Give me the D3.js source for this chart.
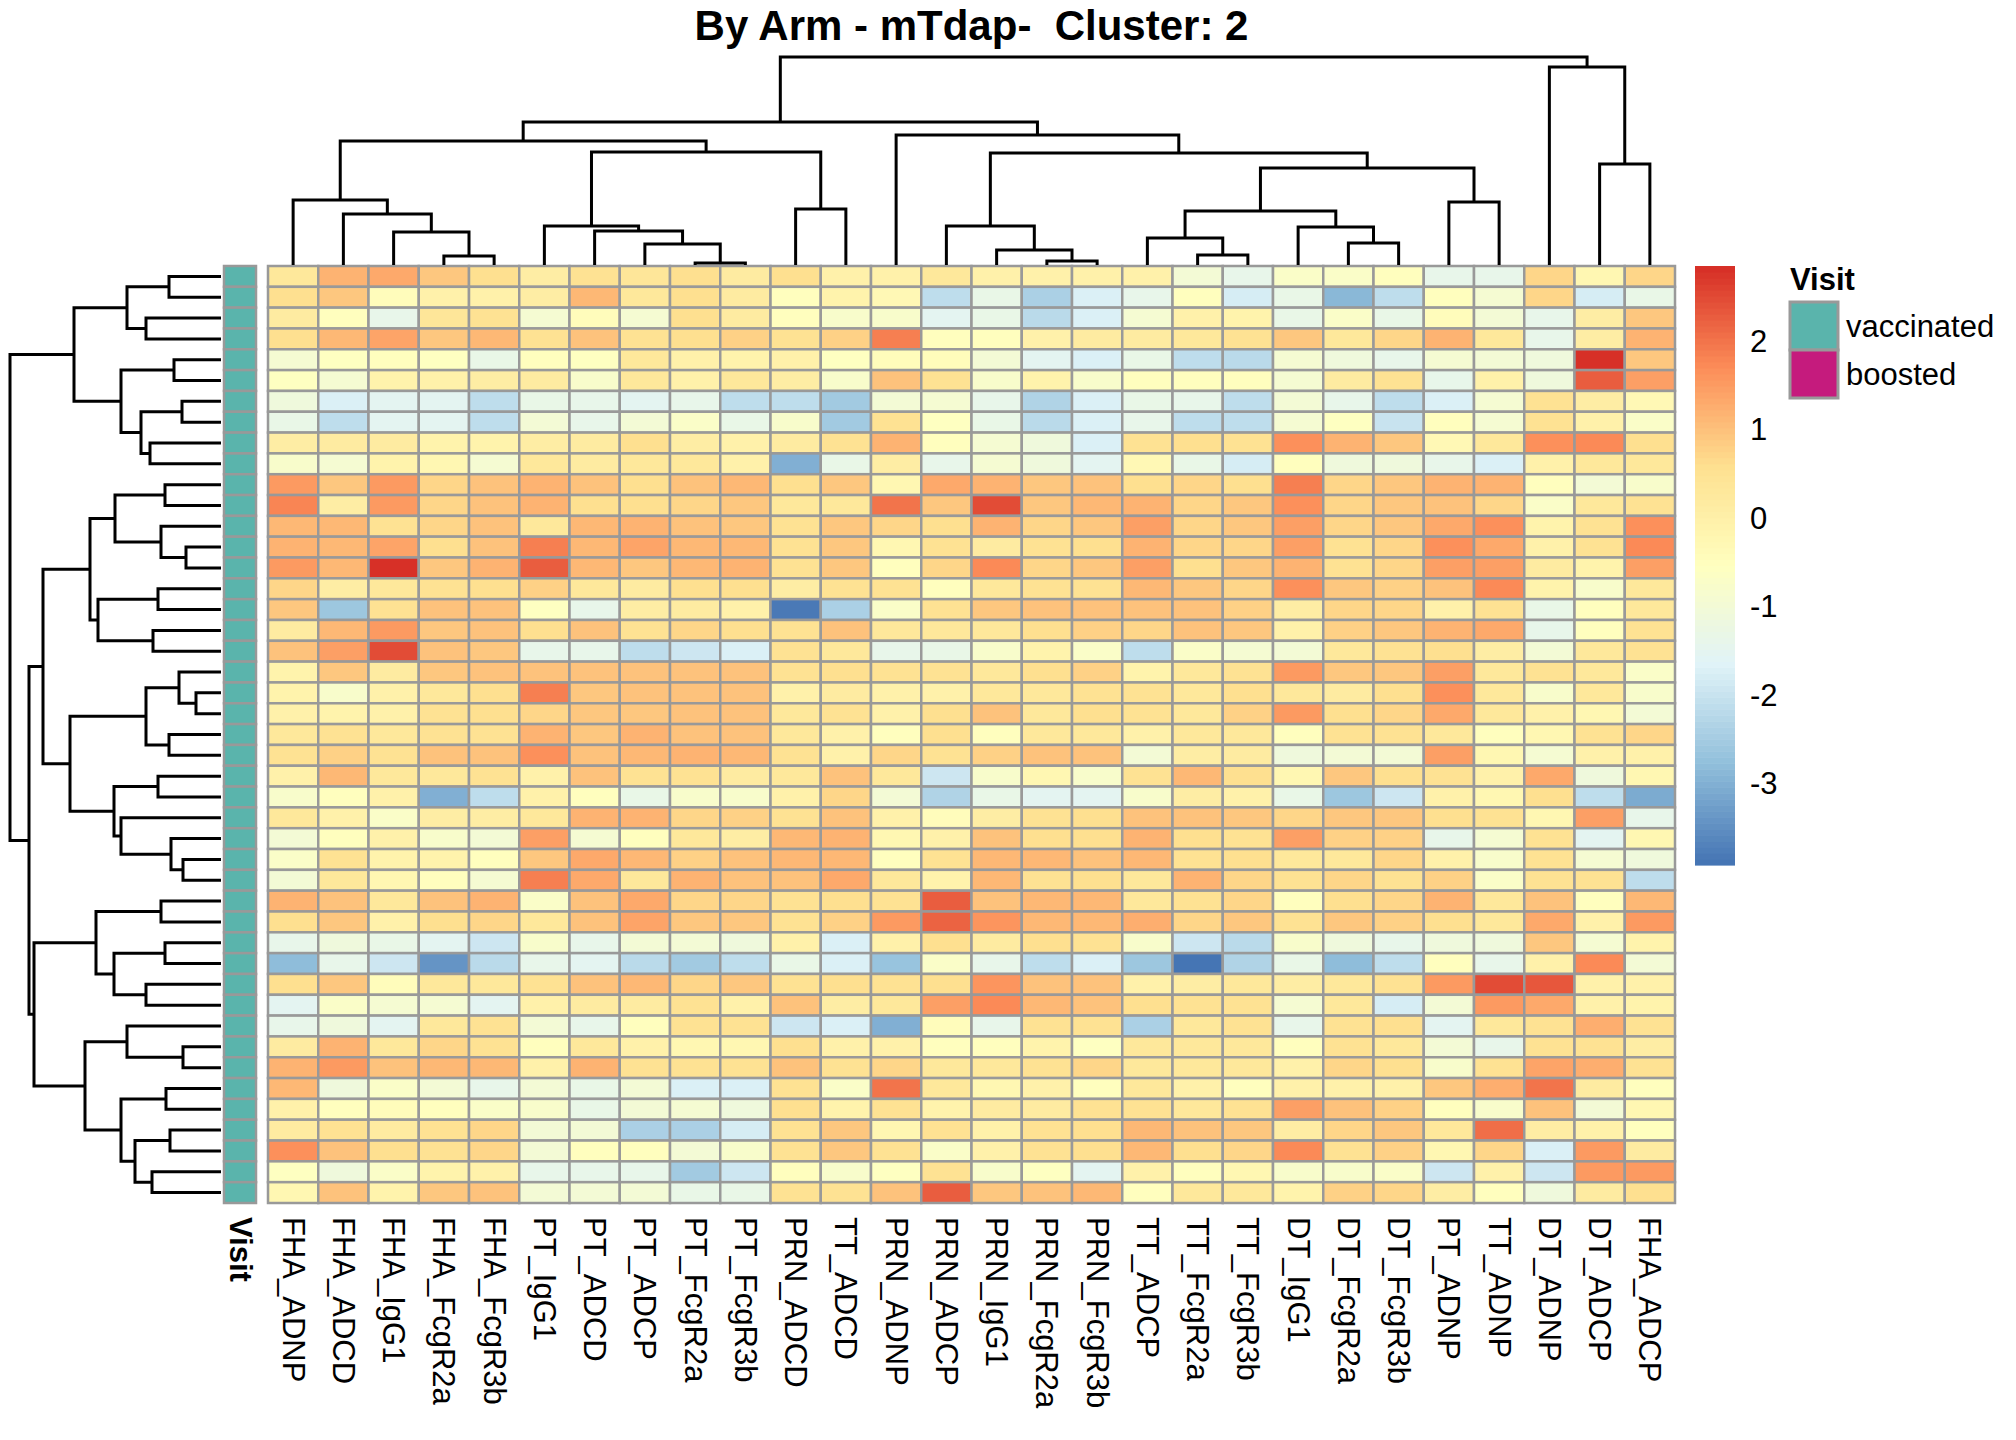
<!DOCTYPE html>
<html>
<head>
<meta charset="utf-8">
<title>By Arm - mTdap- Cluster: 2</title>
<script src="https://d3js.org/d3.v7.min.js"></script>
<style>
  html, body { margin: 0; padding: 0; background: #fff; }
  svg { display: block; font-family: "Liberation Sans", Arial, Helvetica, sans-serif; }
</style>
</head>
<body>
<svg id="chart"></svg>
<script>
// ---- data ----
const title = "By Arm - mTdap-  Cluster: 2";

const columns = [
  "FHA_ADNP", "FHA_ADCD", "FHA_IgG1", "FHA_FcgR2a", "FHA_FcgR3b", "PT_IgG1", "PT_ADCD",
  "PT_ADCP", "PT_FcgR2a", "PT_FcgR3b", "PRN_ADCD", "TT_ADCD", "PRN_ADNP", "PRN_ADCP",
  "PRN_IgG1", "PRN_FcgR2a", "PRN_FcgR3b", "TT_ADCP", "TT_FcgR2a", "TT_FcgR3b", "DT_IgG1",
  "DT_FcgR2a", "DT_FcgR3b", "PT_ADNP", "TT_ADNP", "DT_ADNP", "DT_ADCP", "FHA_ADCP"
];

// one annotation per row (all samples are "vaccinated")
const visit = [
  "vaccinated", "vaccinated", "vaccinated", "vaccinated", "vaccinated", "vaccinated", "vaccinated", "vaccinated", "vaccinated",
  "vaccinated", "vaccinated", "vaccinated", "vaccinated", "vaccinated", "vaccinated", "vaccinated", "vaccinated", "vaccinated",
  "vaccinated", "vaccinated", "vaccinated", "vaccinated", "vaccinated", "vaccinated", "vaccinated", "vaccinated", "vaccinated",
  "vaccinated", "vaccinated", "vaccinated", "vaccinated", "vaccinated", "vaccinated", "vaccinated", "vaccinated", "vaccinated",
  "vaccinated", "vaccinated", "vaccinated", "vaccinated", "vaccinated", "vaccinated", "vaccinated", "vaccinated", "vaccinated"
];
const visitLevels = ["vaccinated", "boosted"];
const visitColors = ["#5AB4AC", "#C51B7D"];

// scaled values, rows in dendrogram order, columns as above
const cellValues = [
  [0.3,1.2,1.3,0.9,0.6,0.1,0.5,0.4,0.6, 0.2,0.6,0.0,0.0,0.3,0.0,0.0,0.0,0.0,-1.0, -1.4,-0.7,-0.7,-0.5,-1.4,-1.4,0.7,-0.2,0.7],
  [0.6,0.9,-0.4,0.0,0.0,0.1,1.1,0.3,0.6, 0.2,-0.5,-0.1,-0.3,-2.1,-1.3,-2.4,-1.7,-1.4,-0.5, -1.8,-1.3,-2.9,-2.1,-0.5,-0.9,0.7,-1.8,-1.3],
  [0.2,-0.5,-1.4,0.4,0.5,-0.9,-0.4,-0.9,0.6, 0.2,-0.5,-0.8,-0.8,-1.5,-1.3,-2.2,-1.7,-0.9,0.0, -0.1,-1.3,-0.7,-1.3,-0.4,-1.0,-1.4,0.1,0.9],
  [0.6,1.1,1.4,0.9,1.1,0.5,1.0,0.5,0.6, 0.8,0.5,0.8,1.85,-0.5,-0.5,0.0,0.2,0.2,0.3, 0.5,0.9,0.3,0.7,1.2,0.3,-1.4,0.1,1.2],
  [-0.9,-0.6,-0.5,-0.6,-1.3,-0.5,-0.6,0.3,0.0, -0.1,0.0,-0.6,-0.4,-0.4,-1.0,-1.5,-1.7,-1.3,-2.1, -2.2,-0.9,-1.1,-1.4,-0.9,-1.0,-1.1,2.8,0.9],
  [-0.6,-0.9,-0.1,0.0,0.1,0.2,-0.8,0.3,0.0, 0.3,0.1,-0.8,1.0,0.5,-0.8,-0.1,-0.8,-0.5,-0.5, -0.5,-0.9,0.2,0.5,-1.4,0.0,-1.1,2.3,1.45],
  [-1.1,-1.7,-1.5,-1.5,-2.1,-1.3,-1.4,-1.5,-1.4, -2.1,-2.1,-2.5,-1.0,-0.9,-1.4,-2.3,-1.7,-1.3,-1.4, -2.1,-1.0,-1.4,-2.1,-1.7,-0.9,0.5,0.1,-0.3],
  [-1.3,-2.1,-1.5,-1.5,-2.1,-1.0,-1.4,-1.0,-0.7, -1.3,-0.8,-2.5,0.5,-0.6,-1.3,-2.2,-1.7,-1.4,-2.1, -2.1,-0.9,-0.6,-2.0,-0.5,-0.9,0.5,0.0,-0.7],
  [0.1,0.2,0.2,-0.1,-0.1,0.1,0.2,0.6,0.1, 0.0,0.2,0.5,1.2,-0.5,-0.9,-1.1,-1.7,0.5,0.6, 0.5,1.65,1.2,0.9,-0.3,0.3,1.65,1.7,0.6],
  [-0.8,-0.9,-0.1,-0.2,-0.9,0.3,0.2,0.3,0.3, 0.0,-3.0,-1.3,0.1,-1.4,-0.9,-1.1,-1.5,-0.3,-1.3, -1.8,-0.5,-1.1,-1.1,-1.4,-1.7,0.0,0.3,0.3],
  [1.5,0.9,1.5,0.7,1.0,1.2,1.0,0.6,1.0, 1.1,0.6,0.9,-0.2,1.3,1.2,0.9,1.0,0.6,0.7, 0.6,1.9,0.7,0.9,1.2,1.2,-0.5,-1.0,-0.8],
  [1.8,0.1,1.5,0.7,1.0,1.2,0.6,0.6,0.7, 0.9,0.3,0.3,2.0,0.9,2.5,0.9,1.1,1.2,0.7, 0.9,1.65,0.7,0.9,1.0,0.7,-0.7,0.3,0.5],
  [1.1,1.1,0.5,0.7,1.0,0.3,1.1,1.2,1.0, 0.9,0.5,0.9,0.7,0.6,1.2,0.7,0.9,1.45,0.7, 0.9,1.45,0.7,0.9,1.3,1.65,-0.1,0.5,1.65],
  [1.2,1.1,1.4,0.6,1.0,1.9,1.1,1.4,1.1, 1.1,0.5,0.9,-0.2,0.5,0.2,0.5,0.6,1.2,0.7, 0.7,1.45,0.5,0.7,1.65,1.3,0.0,0.5,1.7],
  [1.5,1.1,2.85,0.9,1.2,2.3,1.1,0.9,1.1, 1.2,0.5,0.9,-0.5,0.7,1.75,0.7,0.9,1.45,0.6, 0.9,1.2,0.5,0.7,1.45,1.45,0.2,-0.1,1.45],
  [0.7,0.1,0.3,0.5,0.6,0.8,0.3,0.2,0.6, 0.6,0.1,0.5,0.5,-0.5,0.3,0.5,0.5,1.1,0.9, 0.7,1.65,0.9,0.8,1.0,1.7,-0.1,-0.8,0.3],
  [0.9,-2.6,0.5,1.0,1.0,-0.6,-1.4,0.1,0.2, 0.0,-3.85,-2.4,-0.7,0.5,0.9,1.0,1.0,1.0,1.0, 0.8,0.1,0.7,0.7,0.0,0.5,-1.3,-0.5,0.3],
  [0.2,1.1,1.5,0.9,1.0,0.6,1.0,0.5,0.7, 0.6,0.5,1.0,0.3,0.3,0.3,0.6,0.8,0.7,1.0, 0.9,0.0,0.8,0.9,1.2,1.35,-1.4,-0.5,0.5],
  [1.0,1.45,2.5,1.0,0.9,-1.4,-1.4,-2.1,-1.9, -1.7,0.5,0.3,-1.4,-1.3,-0.8,-0.1,-0.7,-2.1,-0.7, -0.9,-1.0,0.3,0.5,0.6,0.1,-1.0,0.3,0.5],
  [-0.1,0.9,0.2,0.9,1.0,1.0,1.0,1.0,1.0, 1.0,0.5,0.6,0.5,0.5,0.3,0.6,0.8,-0.1,0.3, 0.5,1.5,0.9,0.9,1.45,0.3,0.5,0.3,-0.7],
  [-0.1,-0.8,0.0,0.3,0.6,1.9,0.9,1.0,1.0, 1.0,0.0,0.2,0.0,0.0,0.3,0.3,0.5,0.5,0.3, 0.6,0.3,0.2,0.6,1.65,0.3,-0.8,0.3,-0.8],
  [0.0,-0.1,0.0,0.5,0.6,0.7,0.9,0.9,1.0, 1.0,0.3,0.5,0.0,0.6,1.0,0.3,0.6,0.5,0.3, 0.8,1.5,0.6,0.7,1.3,0.3,0.0,-0.2,-1.0],
  [0.3,0.5,0.3,0.5,0.5,1.2,0.9,1.2,1.0, 1.0,0.3,0.0,-0.5,0.6,-0.5,0.3,0.3,0.0,0.3, 0.3,-0.5,0.5,0.5,0.3,-0.5,-0.2,0.5,0.7],
  [0.5,0.8,0.5,1.0,1.0,1.65,1.0,1.1,1.2, 1.1,0.5,0.0,0.7,0.5,0.8,1.0,1.0,-1.0,0.1, 0.2,-1.1,-1.0,-1.0,1.45,-0.2,-0.9,0.0,0.0],
  [0.0,1.1,0.3,0.3,0.5,0.0,1.0,0.5,0.5, 0.2,0.3,1.0,0.3,-1.9,-0.8,-0.2,-0.8,0.5,1.1, 0.6,-0.2,0.9,0.6,0.5,0.0,1.3,-1.1,-0.2],
  [-0.8,-0.5,0.0,-3.0,-2.1,0.0,-0.5,-1.3,-0.8, -0.8,0.0,0.7,-1.0,-2.3,-1.3,-1.5,-1.5,-0.8,0.1, 0.0,-1.3,-2.6,-1.9,0.0,-0.2,0.6,-2.1,-3.1],
  [0.3,0.0,-0.7,0.1,0.1,0.3,1.2,1.2,0.7, 0.8,0.5,1.0,0.0,-0.4,0.1,0.5,0.6,1.0,1.0, 0.9,0.7,0.9,0.9,0.6,0.5,-0.2,1.45,-1.4],
  [-1.0,-0.5,0.0,-0.8,-1.0,1.45,-0.9,-0.5,0.3, 0.1,1.1,1.2,-0.2,0.0,1.0,0.6,0.6,1.2,0.6, 0.5,1.45,0.8,0.8,-1.4,-0.9,0.5,-1.5,-0.2],
  [-0.7,0.5,-0.1,-0.1,-0.5,0.9,1.3,1.1,0.8, 1.0,1.1,1.1,-0.5,0.5,1.1,1.1,1.0,1.1,0.5, 0.6,0.3,0.3,0.7,0.0,-0.8,0.5,-0.9,-1.1],
  [-1.0,0.3,-0.2,-0.5,-0.9,1.9,1.3,0.3,1.2, 1.0,1.0,1.35,0.3,-0.1,1.1,0.5,0.6,0.3,1.2, 0.7,0.5,0.7,0.5,0.8,-0.7,0.5,0.5,-2.1],
  [1.2,1.0,0.3,1.0,1.2,-0.7,1.0,1.35,0.7, 0.7,0.5,0.6,0.5,2.3,1.0,1.1,1.1,0.3,0.5, 0.7,-0.5,0.6,0.7,1.2,0.3,1.0,-0.5,1.1],
  [0.6,0.9,0.0,0.6,0.7,0.3,1.0,1.4,0.9, 0.9,0.5,0.8,1.5,2.2,1.6,1.1,1.1,1.25,0.7, 0.9,0.5,0.9,0.8,0.6,0.3,1.35,0.0,1.55],
  [-1.4,-1.1,-1.3,-1.5,-1.9,-0.8,-1.4,-1.0,-1.0, -1.1,0.0,-1.7,0.0,0.6,0.2,0.6,0.5,-0.8,-1.9, -2.2,-0.8,-1.1,-1.4,-1.1,-1.1,0.9,-0.9,-0.1],
  [-2.8,-1.4,-1.9,-3.4,-2.2,-1.4,-1.5,-2.2,-2.5, -2.1,-1.3,-1.7,-2.7,-0.7,-1.4,-2.1,-1.7,-2.6,-3.92, -2.3,-1.3,-2.8,-2.1,-0.5,-1.4,0.0,1.7,-1.0],
  [0.6,0.9,-0.4,0.3,0.3,0.5,1.0,1.1,0.7, 0.9,0.5,0.6,0.5,0.6,1.6,1.0,1.0,0.0,0.1, 0.3,0.1,0.3,0.5,1.5,2.5,2.35,0.0,0.0],
  [-1.5,-0.7,-0.9,-0.9,-1.5,0.0,0.2,0.2,0.5, 0.0,1.0,0.1,0.3,1.45,1.7,1.1,1.0,0.6,0.5, 0.5,-0.9,0.3,-1.8,-1.0,1.5,1.35,0.0,-0.1],
  [-1.4,-1.1,-1.5,0.3,0.5,-1.0,-1.4,-0.5,0.5, 0.5,-1.9,-1.7,-3.0,-0.4,-1.4,0.5,0.5,-2.4,0.3, 0.5,-1.4,0.5,0.6,-1.5,0.3,0.5,1.25,0.5],
  [0.2,1.2,0.3,0.7,0.5,-0.5,0.3,0.0,-0.2, -0.2,0.6,0.0,0.0,-0.5,-0.5,-0.1,-0.6,0.3,0.3, 0.3,-0.5,0.5,0.3,-1.0,-1.4,0.5,0.5,0.1],
  [1.2,1.5,1.0,1.1,1.1,0.0,1.2,0.5,0.5, 0.5,1.0,0.5,0.7,0.3,0.3,0.5,0.7,0.3,0.3, 0.3,0.0,0.7,0.6,-0.8,0.5,1.4,1.25,0.5],
  [1.1,-1.1,-0.7,-1.0,-1.4,-1.0,-1.3,-1.0,-1.7, -1.7,0.5,-0.7,2.0,0.3,-0.2,0.0,-0.5,0.3,0.0, -0.5,0.0,0.0,0.0,0.9,1.25,2.0,0.2,-0.5],
  [0.0,-0.5,-0.4,-0.5,-0.7,-0.8,-1.3,-1.0,-0.9, -1.1,0.6,-0.1,0.5,-0.1,0.2,0.2,0.5,0.5,0.3, 0.5,1.45,1.0,0.8,-0.5,-0.8,1.0,-1.0,-0.2],
  [0.2,0.5,0.2,0.5,0.7,-1.0,-1.0,-2.4,-2.4, -1.8,0.5,0.9,-0.2,0.5,0.0,0.5,0.6,1.1,1.0, 0.9,0.1,0.7,0.9,0.3,2.1,0.1,0.0,-0.5],
  [1.65,1.0,0.6,0.5,0.7,-1.0,-0.5,-0.5,-1.0, -0.8,0.5,0.9,0.5,-0.7,0.0,0.5,0.6,1.1,0.6, 0.7,1.7,0.5,0.8,-0.2,0.7,-1.7,1.5,0.2],
  [-0.6,-1.1,-0.7,-0.1,0.0,-1.4,-1.4,-1.4,-2.5, -1.9,-0.5,-0.8,-0.6,0.5,-0.8,-0.6,-1.5,0.0,-0.5, -0.2,-0.8,-0.8,-0.7,-1.9,0.0,-1.9,1.5,1.5],
  [-0.2,1.0,-0.1,0.9,1.0,-1.0,-1.0,-1.0,-1.3, -1.3,0.5,0.5,1.0,2.3,0.9,1.0,1.1,-0.5,0.3, 0.3,-0.1,0.8,0.7,0.1,-0.5,-1.1,0.2,0.6]
];

// hclust-style merges: [a, b, height]; negative = leaf (1-based), positive = earlier merge (1-based)
const colMerge = [
  [-4, -5, 9], [-3, 1, 33], [-2, 2, 51], [-1, 3, 65],
  [-9, -10, 2], [-8, 5, 21], [-7, 6, 34], [-6, 7, 39],
  [-11, -12, 56], [8, 9, 113], [4, 10, 124],
  [-16, -17, 4], [-15, 12, 15], [-14, 13, 39],
  [-19, -20, 10], [-18, 15, 27], [-22, -23, 22], [-21, 17, 38], [16, 18, 54],
  [-24, -25, 63], [19, 20, 97], [14, 21, 112], [-13, 22, 130], [11, 23, 143],
  [-27, -28, 101], [-26, 25, 198], [24, 26, 208]
];

const rowMerge = [
  [-1, -2, 52], [-3, -4, 75], [1, 2, 94], [-5, -6, 47], [-7, -8, 39], [-9, -10, 71],
  [5, 6, 80], [4, 7, 100], [3, 8, 147],
  [-11, -12, 56], [-14, -15, 35], [-13, 11, 60], [10, 12, 106],
  [-16, -17, 63], [-18, -19, 68], [14, 15, 123], [13, 16, 131],
  [-21, -22, 25], [-20, 18, 42], [-23, -24, 52], [19, 20, 75],
  [-25, -26, 63], [-29, -30, 38], [-28, 23, 50], [-27, 24, 100], [22, 25, 107],
  [21, 26, 151], [17, 27, 178],
  [-31, -32, 60], [-33, -34, 56], [-35, -36, 75], [30, 31, 107], [29, 32, 125],
  [-38, -39, 38], [-37, 34, 94], [-40, -41, 55], [-42, -43, 51], [-44, -45, 69],
  [37, 38, 86], [36, 39, 100], [35, 40, 136], [33, 41, 187], [28, 42, 192], [9, 43, 211]
];

const legendTicks = [-3, -2, -1, 0, 1, 2];
// rev(brewer.pal(7, "RdYlBu"))
const palette = ["#4575B4", "#91BFDB", "#E0F3F8", "#FFFFBF", "#FEE090", "#FC8D59", "#D73027"];

// ---- layout ----
const width = 2016, height = 1440;
const hm = { left: 268, right: 1675, top: 266, bottom: 1203 };
const gridColor = "#999999";

const svg = d3.select("#chart").attr("width", width).attr("height", height)
  .attr("viewBox", `0 0 ${width} ${height}`);

const x = d3.scaleBand().domain(d3.range(columns.length)).range([hm.left, hm.right]);
const y = d3.scaleBand().domain(d3.range(cellValues.length)).range([hm.top, hm.bottom]);

// colours like pheatmap: 100 bins between data min and max
const [vmin, vmax] = d3.extent(cellValues.flat());
const ramp = d3.scaleLinear()
  .domain(palette.map((_, i) => i / (palette.length - 1)))
  .range(palette)
  .interpolate(d3.interpolateRgb);
const nBins = 100;
const binOf = v => Math.max(0, Math.min(nBins - 1, Math.floor((v - vmin) / (vmax - vmin) * nBins)));
const color = v => ramp(binOf(v) / (nBins - 1));

// title
svg.append("text")
  .attr("x", (hm.left + hm.right) / 2)
  .attr("y", 40)
  .attr("text-anchor", "middle")
  .style("font-size", "42px")
  .style("font-weight", "bold")
  .style("white-space", "pre")
  .text(title);

// heatmap cells
svg.append("g")
  .selectAll("g")
  .data(cellValues)
  .join("g")
  .each(function (row, ri) {
    d3.select(this).selectAll("rect")
      .data(row)
      .join("rect")
      .attr("x", (d, ci) => x(ci))
      .attr("y", y(ri))
      .attr("width", x.bandwidth())
      .attr("height", y.bandwidth())
      .attr("fill", d => color(d))
      .attr("stroke", gridColor)
      .attr("stroke-width", 2.5);
  });

// Visit annotation bar
const visitColor = d3.scaleOrdinal().domain(visitLevels).range(visitColors);
const annot = { left: 224, right: 256 };
svg.append("g")
  .selectAll("rect")
  .data(visit)
  .join("rect")
  .attr("x", annot.left)
  .attr("y", (d, i) => y(i))
  .attr("width", annot.right - annot.left)
  .attr("height", y.bandwidth())
  .attr("fill", d => visitColor(d))
  .attr("stroke", gridColor)
  .attr("stroke-width", 2.5);

// dendrograms
function layoutMerges(merge, leafPos) {
  const nodes = [];
  const ref = k => k < 0 ? { p: leafPos(-k - 1), h: 0 } : nodes[k - 1];
  merge.forEach(([a, b, h]) => {
    const A = ref(a), B = ref(b);
    nodes.push({ p: (A.p + B.p) / 2, h, A, B });
  });
  return nodes;
}

const colNodes = layoutMerges(colMerge, i => x(i) + x.bandwidth() / 2);
const colH = d3.scaleLinear().domain([0, d3.max(colMerge, d => d[2])]).range([265, 57]);
svg.append("g")
  .selectAll("path")
  .data(colNodes)
  .join("path")
  .attr("d", n => `M${n.A.p},${colH(n.A.h)}V${colH(n.h)}H${n.B.p}V${colH(n.B.h)}`)
  .attr("fill", "none")
  .attr("stroke", "#000")
  .attr("stroke-width", 3);

const rowNodes = layoutMerges(rowMerge, i => y(i) + y.bandwidth() / 2);
const rowH = d3.scaleLinear().domain([0, d3.max(rowMerge, d => d[2])]).range([221, 10]);
svg.append("g")
  .selectAll("path")
  .data(rowNodes)
  .join("path")
  .attr("d", n => `M${rowH(n.A.h)},${n.A.p}H${rowH(n.h)}V${n.B.p}H${rowH(n.B.h)}`)
  .attr("fill", "none")
  .attr("stroke", "#000")
  .attr("stroke-width", 3);

// column labels (rotated)
const labelTop = 1217;
svg.append("g")
  .selectAll("text")
  .data(columns)
  .join("text")
  .attr("transform", (d, i) => `translate(${x(i) + x.bandwidth() / 2},${labelTop}) rotate(90)`)
  .attr("dominant-baseline", "central")
  .style("font-size", "31px")
  .text(d => d);

svg.append("text")
  .attr("transform", `translate(${(annot.left + annot.right) / 2},${labelTop}) rotate(90)`)
  .attr("dominant-baseline", "central")
  .style("font-size", "31px")
  .style("font-weight", "bold")
  .text("Visit");

// colour legend
const bar = { left: 1695, right: 1735, top: 266, bottom: 865 };
const legendY = d3.scaleLinear().domain([vmin, vmax]).range([bar.bottom, bar.top]);
const binStep = (vmax - vmin) / nBins;
svg.append("g")
  .selectAll("rect")
  .data(d3.range(nBins))
  .join("rect")
  .attr("x", bar.left)
  .attr("width", bar.right - bar.left)
  .attr("y", i => legendY(vmin + (i + 1) * binStep))
  .attr("height", i => legendY(vmin + i * binStep) - legendY(vmin + (i + 1) * binStep) + 0.6)
  .attr("fill", i => ramp(i / (nBins - 1)));

svg.append("g")
  .selectAll("text")
  .data(legendTicks)
  .join("text")
  .attr("x", bar.right + 15)
  .attr("y", d => legendY(d))
  .attr("dominant-baseline", "central")
  .style("font-size", "31px")
  .text(d => d3.format("")(d).replace("−", "-"));

// Visit legend
const vl = { left: 1790, top: 302, size: 48 };
svg.append("text")
  .attr("x", vl.left)
  .attr("y", 290)
  .style("font-size", "31px")
  .style("font-weight", "bold")
  .text("Visit");

const vItems = svg.append("g")
  .selectAll("g")
  .data(visitLevels)
  .join("g")
  .attr("transform", (d, i) => `translate(${vl.left},${vl.top + i * vl.size})`);
vItems.append("rect")
  .attr("width", vl.size)
  .attr("height", vl.size)
  .attr("fill", d => visitColor(d))
  .attr("stroke", gridColor)
  .attr("stroke-width", 3);
vItems.append("text")
  .attr("x", vl.size + 8)
  .attr("y", vl.size / 2)
  .attr("dominant-baseline", "central")
  .style("font-size", "31px")
  .text(d => d);
</script>
</body>
</html>
